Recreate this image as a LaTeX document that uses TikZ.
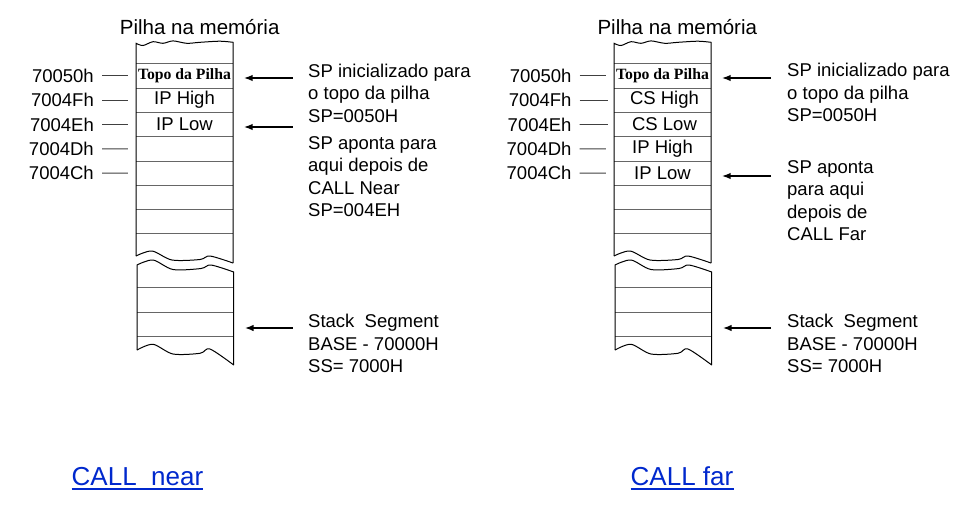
\documentclass[tikz,border=0pt]{standalone}
\usepackage{fontspec}
\setmainfont{Liberation Sans}
\newfontfamily\topofont{Liberation Serif}
\usetikzlibrary{
  arrows.meta,
  calc
}
\definecolor{linkblue}{RGB}{0,40,205}
\tikzset{
  every node/.style={inner sep=0pt},
  txt/.style={font=\fontsize{18.5}{22.5}\selectfont},
  title/.style={font=\fontsize{20.5}{24}\selectfont, anchor=base},
  cell/.style={txt, minimum width=97, minimum height=24.3},
  addr/.style={txt, anchor=east},
  % base = baseline of the last line
  note/.style={txt, anchor=base west, align=left},
  link/.style={font=\fontsize{26}{30}\selectfont, text=linkblue, anchor=base west},
  uline/.style={linkblue, line width=1.8pt},
  rowline/.style={black!60, line width=0.9pt},
  edge/.style={black, line width=1pt},
  tick/.style={black!75, line width=0.9pt, shorten <=8pt, shorten >=8pt},
  arr/.style={-{Latex[length=9pt,width=6.5pt]}, line width=1.9pt, shorten >=10.5pt},
  torn stack/.pic={
    % cell borders
    \foreach \y in {63.5,88,112.3,136.7,161,185.2,209.5,233.5}
      \draw[rowline] (0,\y) -- (97,\y);
    \foreach \y in {287.7,312.2,336.5}
      \draw[rowline] (1,\y) -- (97.7,\y);
    % upper piece
    \draw[edge] (0,256) -- (0,43.3) -- plot[smooth] coordinates {(0,43.3) (7,45.5) (17,41.7) (27,43.3) (37,40.9) (50.7,43.3) (64,42.3) (84,41.2) (97,42.3)} -- (97,263);
    \draw[edge] plot[smooth] coordinates {(0,256) (16,251) (36,260) (64,259.5) (74,256) (97,263)};
    % lower piece
    \draw[edge] (1,350) -- (1,265) -- plot[smooth] coordinates {(1,265) (17,260) (37,269.5) (65,268.5) (75,265) (97.7,272)} -- (97.7,365);
    \draw[edge] plot[smooth] coordinates {(1,350) (17,344.3) (37,354) (64,353.3) (74,349) (97.7,365)};
  }
}

\begin{document}
\begin{tikzpicture}[x=1pt, y=-1pt]
\useasboundingbox (0,0) rectangle (959,523);

%% CALL near
\pic at (136,0) {torn stack};
\node[title] (titleL) at (199.7,34) {Pilha na memória};
\node[cell] (L1) at (184.5,75.75) {\topofont\bfseries\fontsize{15.7}{18}\selectfont Topo da Pilha};
\node[cell] (L2) at (184.5,100.1) {IP High};
\node[cell] (L3) at (184.5,124.45) {IP Low};
\node[cell] (L4) at (184.5,148.8) {};
\node[cell] (L5) at (184.5,173.15) {};
\node[cell] (L9) at (185.35,324.35) {};
\foreach \a [count=\i] in {70050h,7004Fh,7004Eh,7004Dh,7004Ch} {
  \node[addr] (aL\i) at (94,{51.4+24.35*\i}) {\a};
  \draw[tick] (aL\i.east) -- (L\i.west);
}
\node[note] (initL) at (308,122.3) {SP inicializado para\\o topo da pilha\\SP=0050H};
\node[note] (nearL) at (308,216.7) {SP aponta para\\aqui depois de\\CALL Near\\SP=004EH};
\node[note] (segL) at (308,372.7) {Stack~ Segment\\BASE - 70000H\\SS= 7000H};
\coordinate (sL1) at (292.7,78);
\coordinate (sL3) at (292.7,127);
\coordinate (sL9) at (292.7,328);
\draw[arr] (sL1) -- (sL1 -| L1.east);
\draw[arr] (sL3) -- (sL3 -| L3.east);
\draw[arr] (sL9) -- (sL9 -| L9.east);
\node[link] (callNear) at (71.5,485.7) {CALL~ near};
\draw[uline] ([yshift=-3.6pt]callNear.base west) -- ([yshift=-3.6pt]callNear.base east);

%% CALL far
\pic at (614,0) {torn stack};
\node[title] (titleR) at (677.3,34) {Pilha na memória};
\node[cell] (R1) at (662.5,75.75) {\topofont\bfseries\fontsize{15.7}{18}\selectfont Topo da Pilha};
\node[cell] (R2) at (664.5,100.1) {CS High};
\node[cell] (R3) at (664.5,124.45) {CS Low};
\node[cell] (R4) at (662.5,148.8) {IP High};
\node[cell] (R5) at (662.5,173.15) {IP Low};
\node[cell] (R9) at (663.35,324.35) {};
\foreach \a [count=\i] in {70050h,7004Fh,7004Eh,7004Dh,7004Ch} {
  \node[addr] (aR\i) at (571.7,{51.4+24.35*\i}) {\a};
  \draw[tick] (aR\i.east) -- (R\i.west);
}
\node[note] (initR) at (787,121.7) {SP inicializado para\\o topo da pilha\\SP=0050H};
\node[note] (farR) at (787,240.7) {SP aponta\\para aqui\\depois de\\CALL Far};
\node[note] (segR) at (787,372.7) {Stack~ Segment\\BASE - 70000H\\SS= 7000H};
\coordinate (sR1) at (771,78);
\coordinate (sR5) at (771,176);
\coordinate (sR9) at (771,328);
\draw[arr] (sR1) -- (sR1 -| R1.east);
\draw[arr] (sR5) -- (sR5 -| R5.east);
\draw[arr] (sR9) -- (sR9 -| R9.east);
\node[link] (callFar) at (630.5,485.7) {CALL far};
\draw[uline] ([yshift=-3.6pt]callFar.base west) -- ([yshift=-3.6pt]callFar.base east);
\end{tikzpicture}
\end{document}
